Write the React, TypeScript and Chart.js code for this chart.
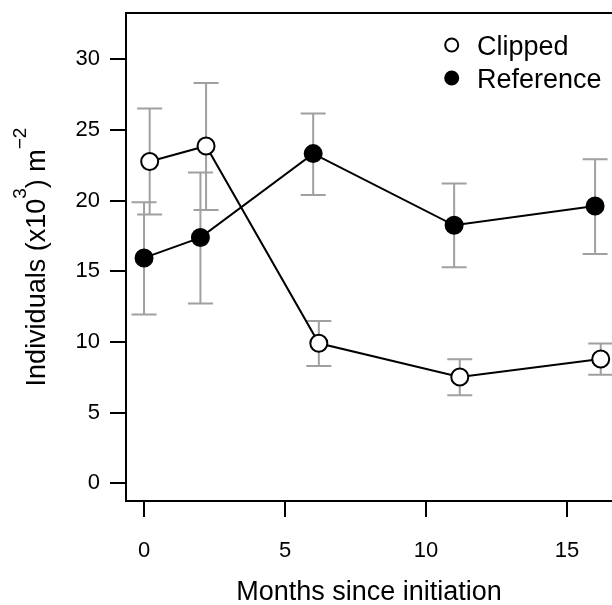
import React, { useEffect, useRef } from "react";
import { Chart, registerables } from "chart.js";

Chart.register(...registerables);

// ---- data ----
const xTicks = [0, 5, 10, 15];
const yTicks = [0, 5, 10, 15, 20, 25, 30];

const refX = [0, 2, 6, 11, 16];
const refY = [15.95, 17.39, 23.33, 18.26, 19.63];
const refUpper = [19.89, 22.0, 26.16, 21.21, 22.93];
const refLower = [11.94, 12.72, 20.4, 15.29, 16.23];

const clipX = [0.2, 2.2, 6.2, 11.2, 16.2];
const clipY = [22.77, 23.87, 9.91, 7.52, 8.8];
const clipUpper = [26.52, 28.33, 11.49, 8.78, 9.89];
const clipLower = [19.02, 19.34, 8.3, 6.23, 7.69];

const legendLabels = ["Clipped", "Reference"];
const xTitle = "Months since initiation";

const FONT = '"Liberation Sans", Arial, Helvetica, sans-serif';

export default function App() {
  const canvasRef = useRef<HTMLCanvasElement>(null);

  useEffect(() => {
    const canvas = canvasRef.current;
    if (!canvas) return;

    const errPlugin = {
      id: "errbars",
      beforeDatasetsDraw(chart: any) {
        const { ctx } = chart;
        const xs = chart.scales.x;
        const ys = chart.scales.y;
        ctx.save();
        ctx.strokeStyle = "#a0a0a0";
        ctx.lineWidth = 2;
        const cap = 12.5;
        const draw = (xv: number[], lo: number[], hi: number[]) => {
          xv.forEach((v, i) => {
            const px = xs.getPixelForValue(v);
            const pl = ys.getPixelForValue(lo[i]);
            const ph = ys.getPixelForValue(hi[i]);
            ctx.beginPath();
            ctx.moveTo(px, pl);
            ctx.lineTo(px, ph);
            ctx.moveTo(px - cap, pl);
            ctx.lineTo(px + cap, pl);
            ctx.moveTo(px - cap, ph);
            ctx.lineTo(px + cap, ph);
            ctx.stroke();
          });
        };
        draw(refX, refLower, refUpper);
        draw(clipX, clipLower, clipUpper);
        ctx.restore();
      },
    };

    const decorPlugin = {
      id: "decor",
      afterDraw(chart: any) {
        const { ctx, chartArea } = chart;
        ctx.save();
        // top border
        ctx.strokeStyle = "#000";
        ctx.lineWidth = 2;
        ctx.beginPath();
        ctx.moveTo(chartArea.left - 1, chartArea.top);
        ctx.lineTo(chartArea.right + 2, chartArea.top);
        ctx.stroke();

        // x title
        ctx.fillStyle = "#000";
        ctx.font = `27px ${FONT}`;
        ctx.textAlign = "center";
        ctx.textBaseline = "alphabetic";
        ctx.fillText(xTitle, (chartArea.left + chartArea.right) / 2, 600);

        // y title with superscripts
        const cy = (chartArea.top + chartArea.bottom) / 2;
        const parts: [string, boolean][] = [
          ["Individuals (x10", false],
          ["3", true],
          [") m", false],
          ["\u22122", true],
        ];
        const mainF = `27px ${FONT}`;
        const supF = `19px ${FONT}`;
        let total = 0;
        parts.forEach(([t, s]) => {
          ctx.font = s ? supF : mainF;
          total += ctx.measureText(t).width;
        });
        ctx.translate(45, cy);
        ctx.rotate(-Math.PI / 2);
        ctx.textAlign = "left";
        let px = -total / 2;
        parts.forEach(([t, s]) => {
          ctx.font = s ? supF : mainF;
          ctx.fillText(t, px, s ? -19 : 0);
          px += ctx.measureText(t).width;
        });
        ctx.setTransform(1, 0, 0, 1, 0, 0);

        // legend
        const lx = 451.7;
        const rows = [45, 78];
        rows.forEach((yy, i) => {
          ctx.beginPath();
          ctx.arc(lx, yy, 6.5, 0, Math.PI * 2);
          ctx.fillStyle = i === 0 ? "#fff" : "#000";
          ctx.fill();
          ctx.lineWidth = 2;
          ctx.strokeStyle = "#000";
          ctx.stroke();
          ctx.fillStyle = "#000";
          ctx.font = `27px ${FONT}`;
          ctx.textAlign = "left";
          ctx.textBaseline = "alphabetic";
          ctx.fillText(legendLabels[i], 477, yy + 10);
        });
        ctx.restore();
      },
    };

    const chart = new Chart(canvas, {
      type: "scatter",
      data: {
        datasets: [
          {
            label: legendLabels[1],
            data: refX.map((x, i) => ({ x, y: refY[i] })),
            showLine: true,
            borderColor: "#000",
            borderWidth: 2,
            pointRadius: 8.5,
            pointBorderWidth: 2,
            pointBackgroundColor: "#000",
            pointBorderColor: "#000",
          },
          {
            label: legendLabels[0],
            data: clipX.map((x, i) => ({ x, y: clipY[i] })),
            showLine: true,
            borderColor: "#000",
            borderWidth: 2,
            pointRadius: 8.5,
            pointBorderWidth: 2,
            pointBackgroundColor: "#fff",
            pointBorderColor: "#000",
          },
        ],
      },
      options: {
        animation: false,
        responsive: false,
        devicePixelRatio: 1,
        layout: { autoPadding: false, padding: { left: 0, right: 0, top: 13, bottom: 0 } },
        plugins: {
          legend: { display: false },
          tooltip: { enabled: false },
          title: { display: false },
        },
        scales: {
          x: {
            type: "linear",
            min: -0.64,
            max: 16.6,
            afterBuildTicks: (s: any) => {
              s.ticks = xTicks.map((v) => ({ value: v }));
            },
            afterFit: (s: any) => {
              s.height = 104;
              s.paddingLeft = 0;
              s.paddingRight = 0;
            },
            grid: {
              display: true,
              drawOnChartArea: false,
              drawTicks: true,
              tickLength: 16,
              color: "#000",
              lineWidth: 2,
            },
            border: { display: true, color: "#000", width: 2 },
            ticks: {
              color: "#000",
              font: { family: FONT, size: 22 },
              padding: 21,
              maxRotation: 0,
              callback: (v: any) => String(v),
            },
          },
          y: {
            type: "linear",
            min: -1.25,
            max: 33.28,
            afterBuildTicks: (s: any) => {
              s.ticks = yTicks.map((v) => ({ value: v }));
            },
            afterFit: (s: any) => {
              s.width = 126;
              s.paddingTop = 0;
              s.paddingBottom = 0;
            },
            grid: {
              display: true,
              drawOnChartArea: false,
              drawTicks: true,
              tickLength: 16,
              color: "#000",
              lineWidth: 2,
            },
            border: { display: true, color: "#000", width: 2 },
            ticks: {
              color: "#000",
              font: { family: FONT, size: 22 },
              padding: 10,
              callback: (v: any) => String(v),
            },
          },
        },
      },
      plugins: [errPlugin, decorPlugin],
    } as any);

    return () => chart.destroy();
  }, []);

  return (
    <div style={{ position: "fixed", left: 0, top: 0, width: 612, height: 605, background: "#fff" }}>
      <canvas ref={canvasRef} width={612} height={605} style={{ display: "block" }} />
    </div>
  );
}
